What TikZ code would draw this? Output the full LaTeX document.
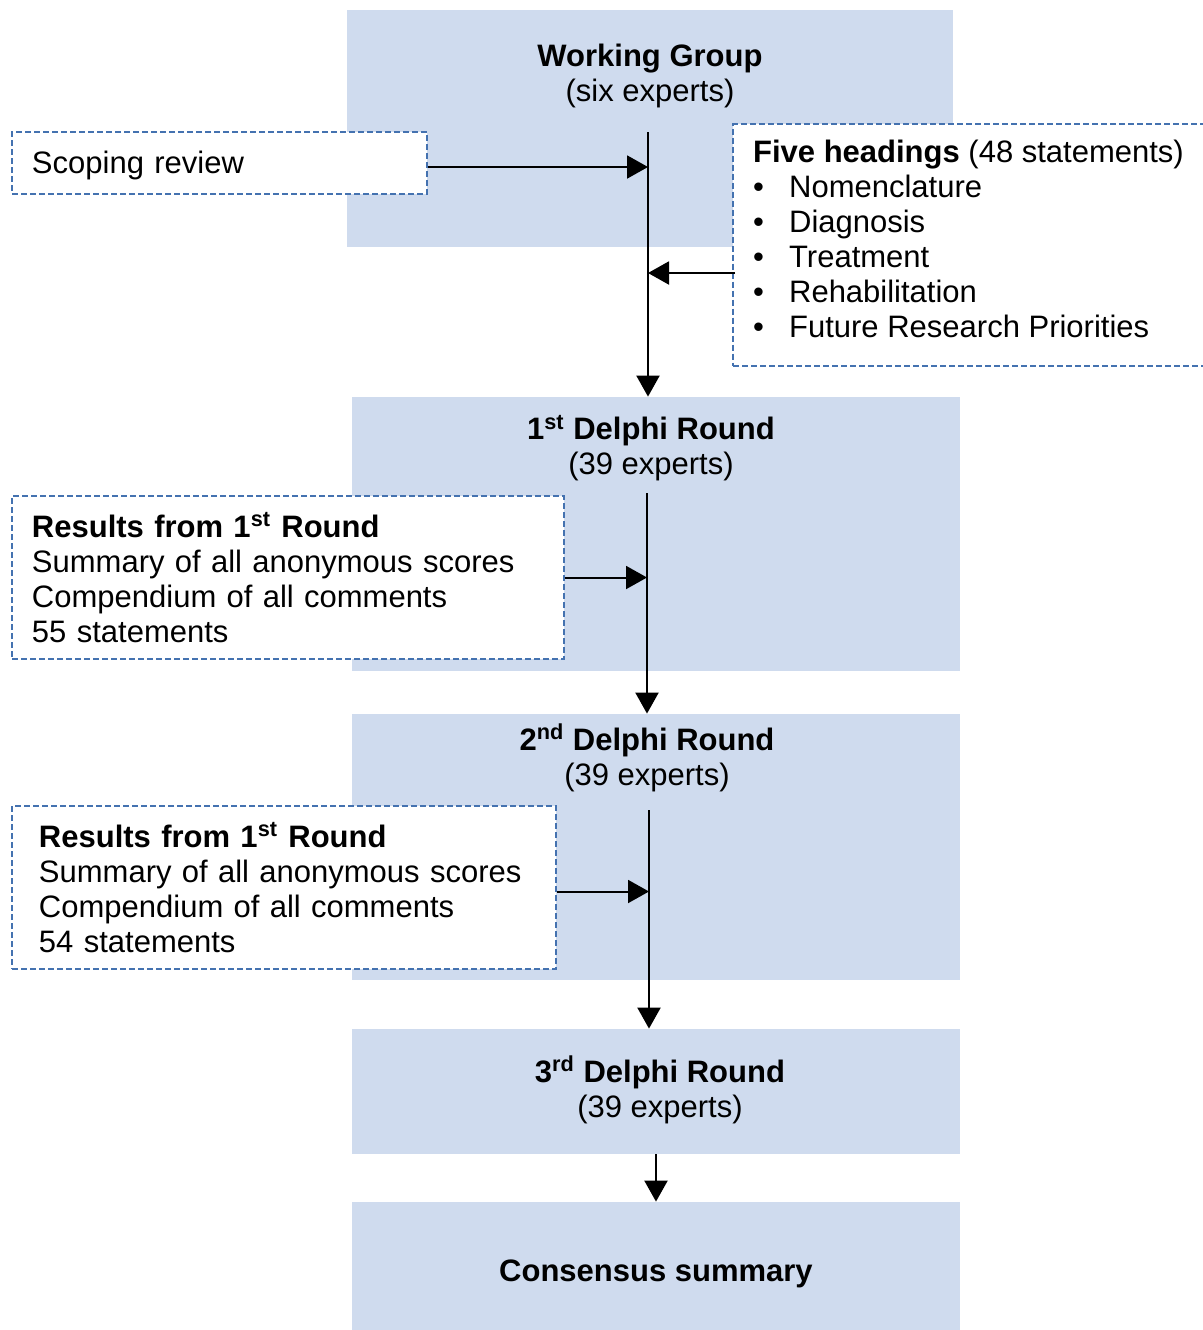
\documentclass[tikz,border=0pt]{standalone}
\usepackage{fontspec}
\setmainfont{Liberation Sans}
\usetikzlibrary{arrows.meta}
\usetikzlibrary{positioning}
\definecolor{phase}{RGB}{207, 219, 238}
\definecolor{frame}{RGB}{68, 114, 176}

\begin{document}
\begin{tikzpicture}[x=0.5pt, y=-0.5pt, font=\fontsize{15.5pt}{17.5pt}\selectfont,
    stage/.style={fill=phase, inner sep=0pt, minimum width=304pt},
    head/.style={align=center, inner sep=0pt},
    input/.style={draw=frame, fill=white, dash pattern=on 3pt off 1.5pt, line width=0.7pt,
                  align=left, inner ysep=0pt, inner xsep=10pt, minimum height=81.5pt},
    flow/.style={-{Triangle[length=10.5pt,width=11.5pt]}, line width=1pt}]
    \useasboundingbox (0,0) rectangle (1203,1330);
    % stages
    \node[stage, minimum width=303pt, minimum height=118.5pt] (wgbox) at (650, 128.5) {};
    \node[stage, minimum height=137pt]                        (d1box) at (656, 534.0) {};
    \node[stage, minimum height=133pt]                        (d2box) at (656, 847.0) {};
    \node[stage, minimum height=62.5pt]                       (d3box) at (656,1091.5) {};
    \node[stage, minimum height=69pt]                         (cons)  at (656,1271.0) {};
    \node[head] (wg) at (650,  75.5) {\textbf{Working Group}\\(six experts)};
    \node[head] (d1) at (651, 448.0) {\textbf{1\textsuperscript{st} Delphi Round}\\(39 experts)};
    \node[head] (d2) at (647, 758.0) {\textbf{2\textsuperscript{nd} Delphi Round}\\(39 experts)};
    \node[head] (d3) at (660,1090.0) {\textbf{3\textsuperscript{rd} Delphi Round}\\(39 experts)};
    \node[head] (cs) at (656,1274.0) {\textbf{Consensus summary}};
    % inputs
    \node[input, text width=187.5pt, minimum height=31pt] (scope) at (219.5, 163.0) {\rule{0pt}{14pt}Scoping review};
    \node[input, minimum width=233.5pt, minimum height=121pt] (heads) at (968.5, 245.0)
        {\textbf{Five headings} (48 statements)\\
         \makebox[18pt][l]{\textbullet}Nomenclature\\
         \makebox[18pt][l]{\textbullet}Diagnosis\\
         \makebox[18pt][l]{\textbullet}Treatment\\
         \makebox[18pt][l]{\textbullet}Rehabilitation\\
         \makebox[18pt][l]{\textbullet}Future Research Priorities\rule[-6.5pt]{0pt}{0pt}};
    \node[input, text width=256pt] (res1) at (288.0, 577.5)
        {\textbf{Results from 1\textsuperscript{st} Round}\\Summary of all anonymous scores\\Compendium of all comments\\55 statements};
    \node[input, text width=245pt, inner xsep=13.5pt] (res2) at (284.0, 887.5)
        {\textbf{Results from 1\textsuperscript{st} Round}\\Summary of all anonymous scores\\Compendium of all comments\\54 statements};
    % flow
    \coordinate (wgout) at (648, 132);
    \coordinate (hin)   at (735, 273);
    \coordinate (d1out) at (647, 493);
    \coordinate (d2out) at (649, 810);
    \draw[flow] (wgout)      -- (wgout |- d1box.north);
    \draw[flow] ([yshift=-2pt]scope.east) -- ([yshift=-2pt]scope.east -| wgout);
    \draw[flow] (hin)        -- (hin -| wgout);
    \draw[flow] (d1out)      -- (d1out |- d2box.north);
    \draw[flow] (res1.east)  -- (res1.east -| d1out);
    \draw[flow] (d2out)      -- (d2out |- d3box.north);
    \draw[flow] ([yshift=-2pt]res2.east) -- ([yshift=-2pt]res2.east -| d2out);
    \draw[flow] (d3box.south) -- (cons.north);
\end{tikzpicture}
\end{document}
